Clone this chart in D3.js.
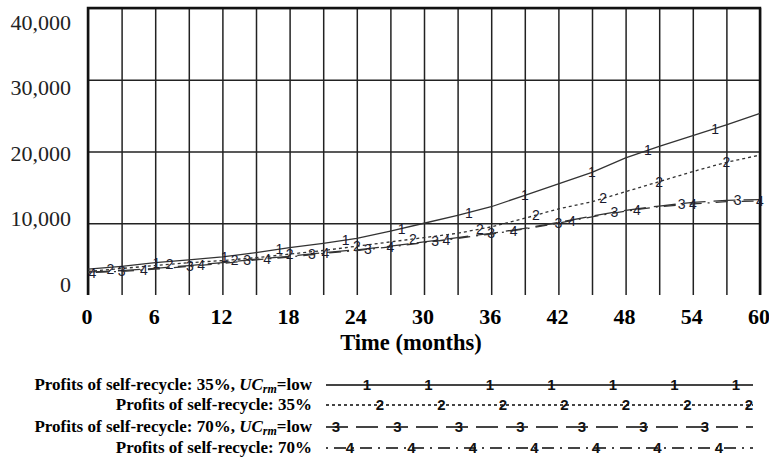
<!DOCTYPE html>
<html>
<head>
<meta charset="utf-8">
<script src="https://cdn.jsdelivr.net/npm/d3@7"></script>
<style>
body { margin: 0; background: #fff; }
svg { display: block; }
</style>
</head>
<body>
<svg id="chart" width="769" height="459"></svg>
<script>
// Time axis (months) and the four simulated runs
var months = [0, 3, 6, 9, 12, 15, 18, 21, 24, 27, 30, 33, 36, 39, 42, 45, 48, 51, 54, 57, 60];
var run35Low = [3600, 4000, 4500, 4900, 5300, 5900, 6600, 7200, 7900, 8900, 10000, 11100, 12300, 13900, 15500, 17100, 19100, 20700, 22200, 23700, 25300];
var run35    = [3300, 3700, 4100, 4500, 4800, 5200, 5700, 6200, 6800, 7400, 8000, 8600, 9500, 10700, 12000, 13000, 14400, 15800, 17200, 18500, 19500];
var run70Low = [3200, 3400, 3700, 4100, 4500, 5000, 5400, 5900, 6300, 6800, 7400, 8000, 8600, 9300, 10100, 11000, 11800, 12400, 12900, 13200, 13300];
var run70    = [3100, 3300, 3600, 4000, 4400, 4900, 5300, 5800, 6200, 6700, 7300, 7900, 8500, 9200, 10000, 10900, 11700, 12300, 12700, 13000, 13100];

var xTicks = [0, 6, 12, 18, 24, 30, 36, 42, 48, 54, 60];
var yTicks = [0, 10000, 20000, 30000, 40000];
var yGrid = [10000, 20000, 30000, 40000];

// where the run numbers sit along each curve (months)
var markTimes = [
  [6.1, 12.2, 17.1, 23, 28, 34, 39, 45, 50, 56],
  [2, 7.3, 13.1, 18, 24, 29, 35, 40, 46, 51, 57],
  [3, 9.1, 14.2, 20, 25, 31, 36, 42, 47, 53, 58],
  [0.4, 5, 10.1, 16, 21.2, 27, 32, 38, 43.2, 49, 54, 60]
];

var legendMain = ["Profits of self-recycle: 35%, ", "Profits of self-recycle: 35%", "Profits of self-recycle: 70%, ", "Profits of self-recycle: 70%"];
var legendUC = [true, false, true, false];

var series = [run35Low, run35, run70Low, run70];
var dashes = ["none", "3,3", "22,8", "2,6,12,6"];

var svg = d3.select("#chart");
var plotL = 88, plotR = 760, plotT = 8, plotB = 295;

var x = d3.scaleLinear().domain([0, 60]).range([plotL, plotR]);
var y = d3.scaleLinear().domain([0, 40000]).range([plotB, plotT]);
// tick labels in the source sit on a slightly compressed band
var yLab = d3.scaleLinear().domain([0, 40000]).range([284, 22]);

// vertical grid every 3 months
svg.append("g")
  .attr("transform", "translate(0," + plotB + ")")
  .call(d3.axisBottom(x).tickValues(months).tickSize(-(plotB - plotT)).tickFormat(""))
  .call(function(g){ g.select(".domain").remove(); })
  .selectAll("line").attr("stroke", "#222").attr("stroke-width", 1.5);

// horizontal grid
svg.append("g")
  .attr("transform", "translate(" + plotL + ",0)")
  .call(d3.axisLeft(y).tickValues(yGrid).tickSize(-(plotR - plotL)).tickFormat(""))
  .call(function(g){ g.select(".domain").remove(); })
  .selectAll("line").attr("stroke", "#222").attr("stroke-width", 1.5);

// frame (no bottom edge in the source)
svg.append("path")
  .attr("d", "M" + plotL + "," + plotB + "V" + plotT + "H" + plotR + "V" + plotB)
  .attr("fill", "none").attr("stroke", "#111").attr("stroke-width", 2.5);

// y labels
var yAx = svg.append("g")
  .attr("transform", "translate(71,0)")
  .call(d3.axisLeft(yLab).tickValues(yTicks).tickSize(0).tickPadding(0).tickFormat(d3.format(",")));
yAx.select(".domain").remove();
yAx.selectAll("text")
  .attr("font-family", "Liberation Serif, Times New Roman, serif")
  .attr("font-size", 22).attr("fill", "#222");

// x labels
var xAx = svg.append("g")
  .attr("transform", "translate(-1.5,308)")
  .call(d3.axisBottom(x).tickValues(xTicks).tickSize(0).tickPadding(0));
xAx.select(".domain").remove();
xAx.selectAll("text")
  .attr("font-family", "Liberation Serif, Times New Roman, serif")
  .attr("font-size", 22).attr("font-weight", "bold").attr("fill", "#000");

svg.append("text")
  .attr("x", 411).attr("y", 350)
  .attr("text-anchor", "middle")
  .attr("font-family", "Liberation Serif, Times New Roman, serif")
  .attr("font-size", 22.5).attr("font-weight", "bold")
  .text("Time (months)");

// curves
var line = d3.line()
  .x(function(d){ return x(d[0]); })
  .y(function(d){ return y(d[1]); });

series.forEach(function(vals, i){
  svg.append("path")
    .datum(months.map(function(m, j){ return [m, vals[j]]; }))
    .attr("d", line)
    .attr("fill", "none")
    .attr("stroke", "#333")
    .attr("stroke-width", 1.3)
    .attr("stroke-dasharray", dashes[i]);

  var along = d3.scaleLinear().domain(months).range(vals);
  svg.append("g").selectAll("text")
    .data(markTimes[i])
    .enter().append("text")
      .attr("x", function(t){ return x(t); })
      .attr("y", function(t){ return y(along(t)); })
      .attr("dy", "0.36em")
      .attr("text-anchor", "middle")
      .attr("font-family", "Liberation Sans, Arial, sans-serif")
      .attr("font-size", 14)
      .attr("fill", "#1a1a2e")
      .text(i + 1);
});

// legend
var legendY = [385, 405, 427, 448];
var legendStart = [367, 380, 336, 350];
var lx = d3.scaleLinear().domain([0, 6]).range([0, 369]);

legendMain.forEach(function(name, i){
  var t = svg.append("text")
    .attr("x", 312).attr("y", legendY[i] + 5)
    .attr("text-anchor", "end")
    .attr("font-family", "Liberation Serif, Times New Roman, serif")
    .attr("font-size", 17).attr("font-weight", "bold");
  t.append("tspan").text(name);
  if (legendUC[i]) {
    t.append("tspan").attr("font-style", "italic").text("UC");
    t.append("tspan").attr("font-style", "italic").attr("font-size", 12).attr("dy", 3).text("rm");
    t.append("tspan").attr("dy", -3).text("=low");
  }

  svg.append("line")
    .attr("x1", 326).attr("x2", 753)
    .attr("y1", legendY[i]).attr("y2", legendY[i])
    .attr("stroke", "#444").attr("stroke-width", 2)
    .attr("stroke-dasharray", dashes[i]);

  svg.append("g").selectAll("text")
    .data([0, 1, 2, 3, 4, 5, 6])
    .enter().append("text")
      .attr("x", function(k){ return legendStart[i] + lx(k); })
      .attr("y", legendY[i])
      .attr("dy", "0.36em")
      .attr("text-anchor", "middle")
      .attr("font-family", "Liberation Sans, Arial, sans-serif")
      .attr("font-size", 15).attr("font-weight", "bold")
      .attr("fill", "#111")
      .text(i + 1);
});
</script>
</body>
</html>
